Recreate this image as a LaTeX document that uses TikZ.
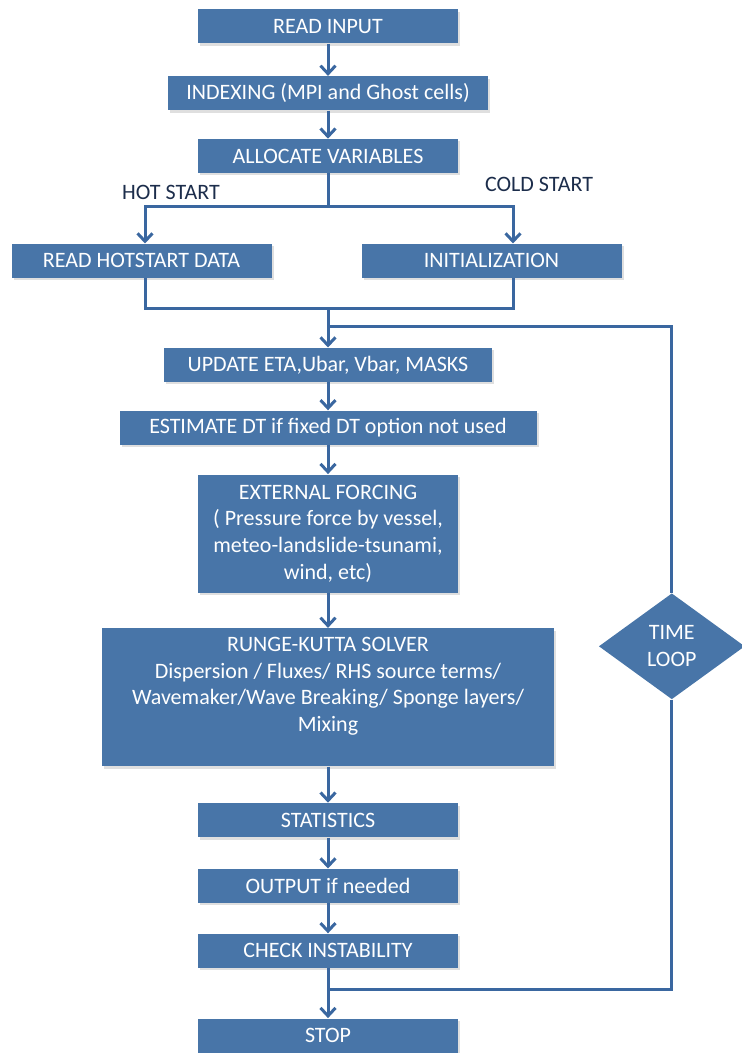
\documentclass[tikz,border=0pt]{standalone}
\usepackage{fontspec}
\setmainfont{Carlito}
\usetikzlibrary{arrows.meta}
\usetikzlibrary{positioning, shapes.geometric, shadows}
\definecolor{boxblue}{RGB}{72,117,168}
\definecolor{lineblue}{RGB}{58,103,160}
\definecolor{lblnavy}{RGB}{28,45,75}

\begin{document}
\begin{tikzpicture}[
  >={Straight Barb[length=4pt,width=7.5pt]},
  font=\fontsize{11}{13.3}\selectfont,
  box/.style={rectangle,fill=boxblue,text=white,
    minimum width=130pt,minimum height=17pt,inner sep=2pt,align=center,
    drop shadow={shadow xshift=1pt,shadow yshift=-1.2pt,opacity=0.25}},
  lbl/.style={inner sep=0pt,text=lblnavy},
  tloop/.style={diamond,fill=boxblue,text=white,inner sep=0pt,aspect=1.4,
    minimum width=73pt,minimum height=53pt,align=center},
  conn/.style={draw=lineblue,line width=1.5pt}
]
\useasboundingbox (0,0) rectangle (370.5pt,-526.5pt);

% --- Main column ---
\node[box] (read) at (164pt,-13.25pt) {READ INPUT};
\node[box,minimum width=160pt,below=16pt of read] (index) {INDEXING (MPI and Ghost cells)};
\node[box,below=14pt of index] (alloc) {ALLOCATE VARIABLES};
\node[box,below=35pt of alloc,xshift=-93.25pt] (hot) {READ HOTSTART DATA};
\node[box,below=35pt of alloc,xshift=81.75pt] (init) {INITIALIZATION};
\node[box,minimum width=164pt,below=87pt of alloc] (update) {UPDATE ETA,Ubar, Vbar, MASKS};
\node[box,minimum width=208.5pt,below=14pt of update] (estim) {ESTIMATE DT if fixed DT option not used};
\node[box,minimum height=59pt,below=14.5pt of estim] (force) {EXTERNAL FORCING\\( Pressure force by vessel,\\meteo-landslide-tsunami,\\wind, etc)};
\node[box,minimum width=226pt,minimum height=69pt,text depth=13pt,below=17.5pt of force] (rk) {RUNGE-KUTTA SOLVER\\Dispersion / Fluxes/ RHS source terms/\\Wavemaker/Wave Breaking/ Sponge layers/\\Mixing};
\node[box,below=18pt of rk] (stats) {STATISTICS};
\node[box,below=15.5pt of stats] (output) {OUTPUT if needed};
\node[box,below=15pt of output] (check) {CHECK INSTABILITY};
\node[box,minimum height=17pt,inner ysep=1pt,below=25pt of check] (stop) {STOP};
\node[tloop,right=22pt of rk,yshift=25.5pt] (loop) {TIME\\LOOP};

% --- Branch labels ---
\node[lbl,above=21.5pt of hot,xshift=14.75pt] (hotlbl) {HOT START};
\node[lbl,above=25.5pt of init,xshift=23.75pt] (coldlbl) {COLD START};

% --- Junction points ---
\coordinate[below=16.5pt of alloc] (br);
\coordinate[below=67.5pt of alloc] (mg);
\coordinate[below=9pt of mg] (lp);
\coordinate[below=10.5pt of check] (lpe);

% --- Connectors ---
\path[conn]
  (read) edge[->] (index)
  (index) edge[->] (alloc)
  (update) edge[->] (estim)
  (estim) edge[->] (force)
  (force) edge[->] (rk)
  (rk) edge[->] (stats)
  (stats) edge[->] (output)
  (output) edge[->] (check)
  (check) edge[->] (stop);
\draw[conn] (alloc) -- (br);
\draw[conn,->] (br) -| ([xshift=1.75pt]hot.north);
\draw[conn,->] (br) -| ([xshift=10.75pt]init.north);
\draw[conn] ([xshift=1.75pt]hot.south) |- (mg) -| ([xshift=10.75pt]init.south);
\draw[conn,->] (mg) -- (update);
\draw[conn] (lp) -| (loop.north);
\draw[conn] (loop.south) |- (lpe);

\end{tikzpicture}
\end{document}
